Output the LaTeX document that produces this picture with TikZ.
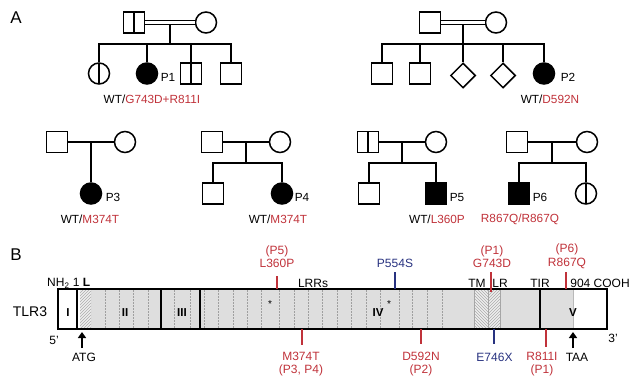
\documentclass[tikz,border=0pt]{standalone}
\usepackage{fontspec}
\setmainfont{Liberation Sans}
\usetikzlibrary{shapes.geometric,patterns,arrows.meta,calc}
\definecolor{mred}{RGB}{192,50,58}
\definecolor{mblue}{RGB}{40,50,128}
\definecolor{bargray}{RGB}{222,222,222}
\definecolor{hatchbg}{RGB}{238,238,238}
\begin{document}
\begin{tikzpicture}[x=1pt,y=-1pt,
  ped/.style={draw, line width=1.5pt, inner sep=0pt, fill=white},
  male/.style={ped, rectangle, minimum width=21pt, minimum height=21pt},
  female/.style={ped, circle, minimum size=21pt},
  unk/.style={ped, diamond, minimum size=25pt},
  aff/.style={fill=black},
  carrier/.style={path picture={\draw[line width=1.5pt] (path picture bounding box.north) -- (path picture bounding box.south);}},
  pline/.style={line width=1.5pt},
  marr/.style={line width=1.3pt, double, double distance=3.2pt},
  lab/.style={font=\fontsize{11.8}{13}\selectfont, inner sep=0pt},
  mut/.style={font=\fontsize{12}{13.5}\selectfont, inner sep=0pt, align=center},
  mline/.style={line width=2.3pt},
  dotline/.style={gray!75, line width=0.5pt, dash pattern=on 1.5pt off 1.5pt},
  bnd/.style={line width=1.7pt},
  upar/.style={line width=2.2pt, -{Triangle[width=8pt,length=6pt]}},
  panel/.style={font=\fontsize{17}{19}\selectfont, inner sep=0pt},
  exlab/.style={font=\fontsize{11.5}{12}\selectfont\bfseries, inner sep=0pt}
]
\useasboundingbox (0,0) rectangle (640,385);

% Panel letters
\node[panel] (pA) at (16,18) {A};
\node[panel] (pB) at (16,255) {B};

% ---------- Family 1 ----------
\node[male, carrier] (f1) at (134,22.5) {};
\node[female] (m1) at (206,22.5) {};
\node[female, carrier] (c11) at (99,73.5) {};
\node[female, aff] (c12) at (147,73.5) {};
\node[male, carrier] (c13) at (191,73.5) {};
\node[male] (c14) at (231,73.5) {};
\coordinate (s1) at ($(f1)!0.5!(m1)+(0,21.5)$);
\draw[pline] ($(f1)!0.5!(m1)$) -- (s1);
\draw[marr] (f1) -- (m1);
\draw[pline] (c11.north) -- (c11 |- s1) -- (c14 |- s1) -- (c14.north);
\draw[pline] (c12 |- s1) -- (c12.north);
\draw[pline] (c13 |- s1) -- (c13.north);
\node[lab] (p1) at (168,77) {P1};
\node[lab] (g1) at (152,99) {WT/\textcolor{mred}{G743D+R811I}};

% ---------- Family 2 ----------
\node[male] (f2) at (430,22.5) {};
\node[female] (m2) at (496,22.5) {};
\node[male] (c21) at (382,73.5) {};
\node[male] (c22) at (420,73.5) {};
\node[unk] (c23) at (463,75.5) {};
\node[unk] (c24) at (503,75.5) {};
\node[female, aff] (c25) at (544,73.5) {};
\coordinate (s2) at ($(f2)!0.5!(m2)+(0,21.5)$);
\draw[pline] ($(f2)!0.5!(m2)$) -- (s2);
\draw[marr] (f2) -- (m2);
\draw[pline] (c21.north) -- (c21 |- s2) -- (c25 |- s2) -- (c25.north);
\draw[pline] (c22 |- s2) -- (c22.north);
\draw[pline] (c23 |- s2) -- (c23.north);
\draw[pline] (c24 |- s2) -- (c24.north);
\node[lab] (p2) at (568,77) {P2};
\node[lab] (g2) at (550,99) {WT/\textcolor{mred}{D592N}};

% ---------- Family 3 ----------
\node[male] (f3) at (57,142) {};
\node[female] (m3) at (125,142) {};
\node[female, aff] (c31) at (91,193.5) {};
\draw[pline] (f3) -- (m3);
\draw[pline] ($(f3)!0.5!(m3)$) -- (c31.north);
\node[lab] (p3) at (113,197) {P3};
\node[lab] (g3) at (90,219) {WT/\textcolor{mred}{M374T}};

% ---------- Family 4 ----------
\node[male] (f4) at (212,142) {};
\node[female] (m4) at (280,142) {};
\node[male] (c41) at (213,193.5) {};
\node[female, aff] (c42) at (282,193.5) {};
\coordinate (s4) at ($(f4)!0.5!(m4)+(0,21)$);
\draw[pline] (f4) -- (m4);
\draw[pline] ($(f4)!0.5!(m4)$) -- (s4);
\draw[pline] (c41.north) -- (c41 |- s4) -- (c42 |- s4) -- (c42.north);
\node[lab] (p4) at (302,197) {P4};
\node[lab] (g4) at (278,219) {WT/\textcolor{mred}{M374T}};

% ---------- Family 5 ----------
\node[male, carrier] (f5) at (368,142) {};
\node[female] (m5) at (436,142) {};
\node[male] (c51) at (369,193.5) {};
\node[male, aff] (c52) at (436,193.5) {};
\coordinate (s5) at ($(f5)!0.5!(m5)+(0,21)$);
\draw[pline] (f5) -- (m5);
\draw[pline] ($(f5)!0.5!(m5)$) -- (s5);
\draw[pline] (c51.north) -- (c51 |- s5) -- (c52 |- s5) -- (c52.north);
\node[lab] (p5) at (457,197) {P5};
\node[lab] (g5) at (437,219) {WT/\textcolor{mred}{L360P}};

% ---------- Family 6 ----------
\node[male] (f6) at (517,142) {};
\node[female] (m6) at (587,142) {};
\node[male, aff] (c61) at (519,193.5) {};
\node[female, carrier] (c62) at (586,193.5) {};
\coordinate (s6) at ($(f6)!0.5!(m6)+(0,21)$);
\draw[pline] (f6) -- (m6);
\draw[pline] ($(f6)!0.5!(m6)$) -- (s6);
\draw[pline] (c61.north) -- (c61 |- s6) -- (c62 |- s6) -- (c62.north);
\node[lab] (p6) at (540,197) {P6};
\node[lab] (g6) at (520,219) {\textcolor{mred}{R867Q/R867Q}};

% ---------- Panel B: TLR3 bar ----------
\fill[bargray] (77,289) rectangle (573,329);
\fill[white] (77,289) rectangle (80,329);
\fill[hatchbg] (80,289) rectangle (91,329);
\fill[pattern=north east lines, pattern color=gray!65] (80,289) rectangle (91,329);
\fill[hatchbg] (474,289) rectangle (500,329);
\fill[pattern=north west lines, pattern color=gray!65] (474,289) rectangle (488,329);
\fill[pattern=north east lines, pattern color=gray!65] (488,289) rectangle (500,329);
\draw[gray!70, line width=0.5pt] (474,289) -- (474,329) (488,289) -- (488,329) (500,289) -- (500,329);
\foreach \x in {105,119,133,148,174,190,204,218,233,247,261,279,294,308,322,337,351,366,380,399,412,427,442}
  \draw[dotline] (\x,290) -- (\x,328);
\draw[gray!55, line width=1pt] (573,290) -- (573,328);
\draw[bnd] (77,289) -- (77,329);
\draw[bnd] (161,289) -- (161,329);
\draw[bnd] (200,289) -- (200,329);
\draw[bnd] (540,289) -- (540,329);
\draw[line width=2pt] (58,289) rectangle (607,329);

% exon labels
\node[exlab] (e1) at (68,313) {I};
\node[exlab] (e2) at (125,313) {II};
\node[exlab] (e3) at (182,313) {III};
\node[exlab] (e4) at (378,313) {IV};
\node[exlab] (e5) at (573,313) {V};
\node[font=\fontsize{10}{11}\selectfont, inner sep=0pt] (st1) at (270,304) {*};
\node[font=\fontsize{10}{11}\selectfont, inner sep=0pt] (st2) at (389,304) {*};

% domain labels
\node[mut, anchor=west] (nh) at (47,283) {NH\textsubscript{2} 1 \textbf{L}};
\node[mut] (lrr) at (313,283) {LRRs};
\node[mut] (tm) at (477,283) {TM};
\node[mut] (lr) at (500,283) {LR};
\node[mut] (tir) at (540,283) {TIR};
\node[mut] (cooh) at (600,283) {904 COOH};
\node[font=\fontsize{14}{16}\selectfont, inner sep=0pt] (tlr) at (30,312) {TLR3};
\node[mut] (five) at (54,340) {5'};
\node[mut] (three) at (613,338) {3'};

% start/stop arrows
\coordinate (atgA) at (82,348);
\coordinate (atgB) at (82,332);
\draw[upar] (atgA) -- (atgB);
\node[mut] (atg) at (84,357) {ATG};
\coordinate (taaA) at (573,348);
\coordinate (taaB) at (573,332);
\draw[upar] (taaA) -- (taaB);
\node[mut] (taa) at (577,357) {TAA};

% mutations above
\coordinate (a1) at (277,276); \coordinate (b1) at (277,289);
\draw[mline, mred] (a1) -- (b1);
\node[mut, text=mred] (l1) at (277,256.5) {(P5)\\L360P};
\coordinate (a2) at (395,272); \coordinate (b2) at (395,289);
\draw[mline, mblue] (a2) -- (b2);
\node[mut, text=mblue] (l2) at (395,263) {P554S};
\coordinate (a3) at (491,272); \coordinate (b3) at (491,292);
\draw[mline, mred] (a3) -- (b3);
\node[mut, text=mred] (l3) at (492,256.5) {(P1)\\G743D};
\coordinate (a4) at (566,272); \coordinate (b4) at (566,289);
\draw[mline, mred] (a4) -- (b4);
\node[mut, text=mred] (l4) at (567,256.5) {(P6)\\R867Q};

% mutations below
\coordinate (a5) at (302,329); \coordinate (b5) at (302,345);
\draw[mline, mred] (a5) -- (b5);
\node[mut, text=mred] (l5) at (301,364) {M374T\\(P3, P4)};
\coordinate (a6) at (421,329); \coordinate (b6) at (421,344);
\draw[mline, mred] (a6) -- (b6);
\node[mut, text=mred] (l6) at (421,364) {D592N\\(P2)};
\coordinate (a7) at (494,329); \coordinate (b7) at (494,344);
\draw[mline, mblue] (a7) -- (b7);
\node[mut, text=mblue] (l7) at (494.5,357) {E746X};
\coordinate (a8) at (546,329); \coordinate (b8) at (546,347);
\draw[mline, mred] (a8) -- (b8);
\node[mut, text=mred] (l8) at (542,364) {R811I\\(P1)};
\end{tikzpicture}
\end{document}
